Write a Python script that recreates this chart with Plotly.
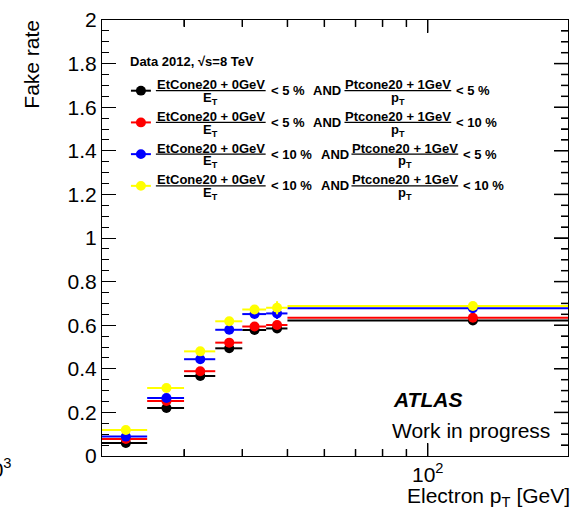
import math
import plotly.graph_objects as go

# ---------------- data ----------------
pt_center = [22.5, 27.5, 32.5, 37.5, 42.5, 47.5, 125.0]
pt_halfwidth = [2.5, 2.5, 2.5, 2.5, 2.5, 2.5, 75.0]

rate_et5_pt5 = [0.060, 0.220, 0.367, 0.494, 0.578, 0.585, 0.622]
rate_et5_pt10 = [0.078, 0.252, 0.389, 0.520, 0.594, 0.601, 0.634]
rate_et10_pt5 = [0.089, 0.266, 0.444, 0.579, 0.651, 0.654, 0.678]
rate_et10_pt10 = [0.119, 0.312, 0.480, 0.618, 0.672, 0.680, 0.688]

err_et5_pt5 = [0.006, 0.010, 0.012, 0.012, 0.014, 0.018, 0.006]
err_et5_pt10 = [0.006, 0.010, 0.012, 0.012, 0.014, 0.018, 0.006]
err_et10_pt5 = [0.007, 0.011, 0.013, 0.013, 0.015, 0.025, 0.006]
err_et10_pt10 = [0.008, 0.012, 0.014, 0.014, 0.016, 0.030, 0.006]

series_rates = [rate_et5_pt5, rate_et5_pt10, rate_et10_pt5, rate_et10_pt10]
series_errs = [err_et5_pt5, err_et5_pt10, err_et10_pt5, err_et10_pt10]
series_colors = ["#000000", "#ff0000", "#0000ff", "#ffff00"]
cut_et = ["5", "5", "10", "10"]
cut_pt = ["5", "10", "5", "10"]

x_range = [20, 200]
y_range = [0, 2]
x_major = [100]
x_major_text = ["10<sup>2</sup>"]
x_minor = [30, 40, 50, 60, 70, 80, 90]
y_major = [0.2 * k for k in range(1, 10)]
y_minor = [0.05 * k for k in range(1, 40) if k % 4 != 0]

# ---------------- layout geometry (pixels) ----------------
W, H = 577, 518
L, R, T, B = 102, 569, 12, 456
PW, PH = R - L, B - T
FONT = "Liberation Sans, Arial, Helvetica, sans-serif"


def px(x):
    return (x - L) / PW


def py(y):
    return (B - y) / PH


fig = go.Figure()

for rates, errs, col in zip(series_rates, series_errs, series_colors):
    fig.add_trace(go.Scatter(
        x=pt_center, y=rates, mode="markers",
        marker=dict(color=col, size=10, line=dict(width=0)),
        error_x=dict(type="data", array=pt_halfwidth, color=col, thickness=2, width=0),
        error_y=dict(type="data", array=errs, color=col, thickness=2, width=0),
        showlegend=False, hoverinfo="skip",
    ))

shapes = []
annotations = []


def ann(text, x, y, size=13, xanchor="left", yanchor="middle", **kw):
    annotations.append(dict(
        text=text, x=px(x), y=py(y), xref="paper", yref="paper",
        xanchor=xanchor, yanchor=yanchor, showarrow=False,
        font=dict(family=FONT, size=size, color="black"), **kw))


def hline(x0, x1, y, color="black", width=1):
    shapes.append(dict(type="line", xref="paper", yref="paper",
                       x0=px(x0), x1=px(x1), y0=py(y), y1=py(y),
                       line=dict(color=color, width=width)))


# tick marks on the frame (bottom/top x ticks, right-side y ticks)
for v in x_major + x_minor:
    ln = 13 if v in x_major else 7
    for base, sgn in ((0, 1), (1, -1)):
        shapes.append(dict(type="line", xref="x", yref="paper", x0=v, x1=v,
                           y0=base, y1=base + sgn * ln / PH,
                           line=dict(color="black", width=1.5)))
for v in y_major + y_minor:
    ln = 14 if v in y_major else 7
    shapes.append(dict(type="line", xref="paper", yref="y", x0=1, x1=1 - ln / PW,
                       y0=v, y1=v, line=dict(color="black", width=1.5)))

# header
ann("<b>Data 2012, √s=8 TeV</b>", 128, 54, size=13)

for i in range(4):
    yc = 84 + 32.3 * i
    col = series_colors[i]
    # legend marker
    hline(131, 151, yc, color=col, width=2)
    shapes.append(dict(type="circle", xref="paper", yref="paper",
                       x0=px(136), x1=px(146), y0=py(yc + 5), y1=py(yc - 5),
                       fillcolor=col, line=dict(width=0)))
    # first fraction
    ann("<b>EtCone20 + 0GeV</b>", 211, yc - 6, xanchor="center")
    hline(156, 266, yc, width=1.2)
    ann("<b>E<sub>T</sub></b>", 211, yc + 8, xanchor="center")
    ann("<b>&lt; %s %%</b>" % cut_et[i], 269, yc)
    wide = cut_et[i] == "10"
    ann("<b>AND</b>", 319 if wide else 311.5, yc)
    f0 = 352 if wide else 345
    f1 = 459 if wide else 452
    fc = (f0 + f1) / 2
    ann("<b>Ptcone20 + 1GeV</b>", fc, yc - 6, xanchor="center")
    hline(f0, f1, yc, width=1.2)
    ann("<b>p<sub>T</sub></b>", fc, yc + 8, xanchor="center")
    ann("<b>&lt; %s %%</b>" % cut_pt[i], f1 + 3, yc)

# labels
ann("<b><i>ATLAS</i></b>", 392, 398, size=21)
ann("Work in progress", 391, 430, size=21)
ann("Electron p<sub>T</sub> [GeV]", 573, 498, size=21, xanchor="right")
ann("Fake rate", 31, 10, size=21, xanchor="center", yanchor="top", textangle=-90)
ann("10<sup>3</sup>", 14, 468, size=21, xanchor="right")

fig.update_layout(
    width=W, height=H,
    margin=dict(l=L, r=W - R, t=T, b=H - B, pad=0),
    paper_bgcolor="white", plot_bgcolor="white",
    font=dict(family=FONT, size=21, color="black"),
    shapes=shapes, annotations=annotations,
    xaxis=dict(
        type="log", range=[math.log10(x_range[0]), math.log10(x_range[1])],
        tickmode="array", tickvals=x_major, ticktext=x_major_text,
        ticks="inside", ticklen=13, tickwidth=1, tickcolor="black",
        showline=True, linecolor="black", linewidth=1, mirror="allticks",
        showgrid=False, zeroline=False,
        tickfont=dict(family=FONT, size=21),
        minor=dict(dtick="D1", ticks="inside",
                   ticklen=7, tickwidth=1, tickcolor="black", showgrid=False),
    ),
    yaxis=dict(
        range=y_range, dtick=0.2, tick0=0,
        ticks="inside", ticklen=14, tickwidth=1, tickcolor="black",
        showline=True, linecolor="black", linewidth=1, mirror="allticks",
        showgrid=False, zeroline=False,
        tickfont=dict(family=FONT, size=21),
        minor=dict(dtick=0.05, ticks="inside", ticklen=7, tickwidth=1,
                   tickcolor="black", showgrid=False),
    ),
)

fig.write_html("out.html")
